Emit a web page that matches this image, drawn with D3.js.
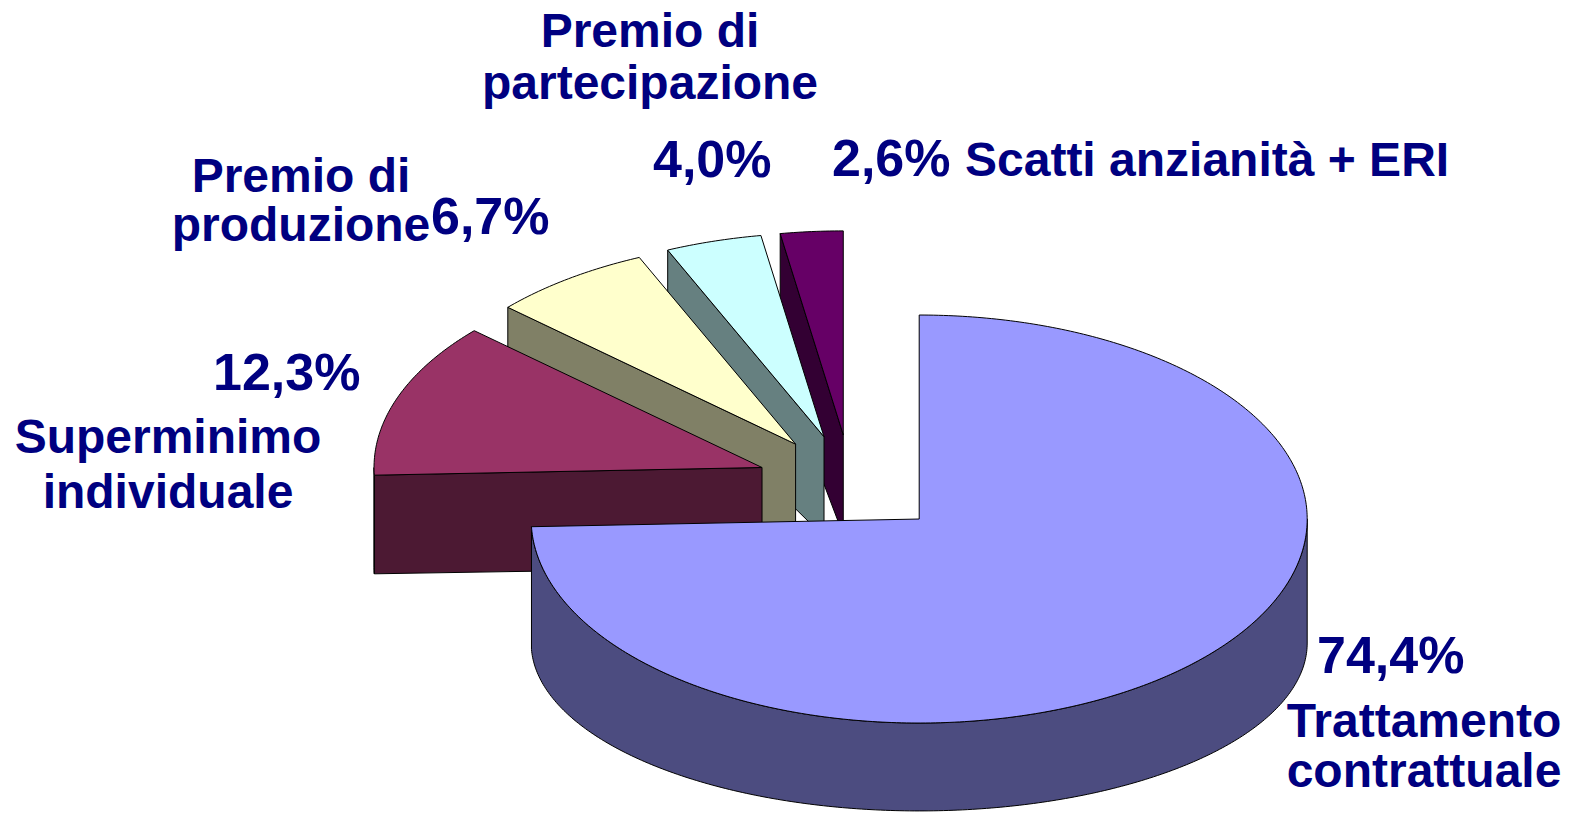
<!DOCTYPE html>
<html>
<head>
<meta charset="utf-8">
<script src="https://cdn.jsdelivr.net/npm/d3@7"></script>
<style>
  html, body { margin: 0; padding: 0; background: #fff; }
  svg { display: block; }
  text { font-family: "Liberation Sans", Arial, sans-serif; font-weight: bold; fill: #000080; }
</style>
</head>
<body>
<svg id="chart" width="1574" height="821"></svg>
<script>
// ---------------- data ----------------
const categories = ["Trattamento contrattuale", "Superminimo individuale", "Premio di produzione", "Premio di partecipazione", "Scatti anzianità + ERI"];
const values = [74.4, 12.3, 6.7, 4.0, 2.6];
const nameLines = [["Trattamento", "contrattuale"], ["Superminimo", "individuale"], ["Premio di", "produzione"], ["Premio di", "partecipazione"], ["Scatti anzianità + ERI"]];

// ---------------- style / layout ----------------
const topColors  = ["#9999FF", "#993366", "#FFFFCC", "#CCFFFF", "#660066"];
const sideColors = ["#4C4C80", "#4C1933", "#808066", "#668080", "#330033"];
const geo = { cx: 851, cy: 484.5, rx: 388, ry: 204, explode: 0.244, bottomRatio: 0.823 };
const depths = [124, 100, 100, 100, 100];
const nameSize = 48, pctSize = 52;
const labelLayout = [
  { pct: [1317, 673], name: [1424, 737], lh: 50 },
  { pct: [213, 390],  name: [168, 453],  lh: 55 },
  { pct: [431, 234],  name: [301, 192],  lh: 49 },
  { pct: [653, 177],  name: [650, 47],   lh: 52 },
  { pct: [832, 176],  inline: true }
];

// ---------------- drawing ----------------
const svg = d3.select("#chart");
const pie = d3.pie().sort(null).value(d => d);
const arcs = pie(values);
const ry2 = geo.ry * geo.bottomRatio;
const fmt = v => v.toFixed(1).replace(".", ",") + "%";

function center(a) {
  const mid = (a.startAngle + a.endAngle) / 2;
  return { x: geo.cx + geo.explode * geo.rx * Math.sin(mid), y: geo.cy - geo.explode * geo.ry * Math.cos(mid) };
}
const topPt = (c, a) => [c.x + geo.rx * Math.sin(a), c.y - geo.ry * Math.cos(a)];
const botPt = (c, a, H) => [c.x + geo.rx * Math.sin(a), c.y + H - ry2 * Math.cos(a)];
function sample(a0, a1) {
  const n = Math.max(2, Math.ceil(Math.abs(a1 - a0) * 80));
  return d3.range(n + 1).map(i => a0 + (a1 - a0) * i / n);
}
const line = d3.line().curve(d3.curveLinear);

const slices = arcs.map((a, i) => ({ a, i, c: center(a), H: depths[i] }))
  .sort((p, q) => p.c.y - q.c.y);

const g = svg.append("g");
slices.forEach(({ a, i, c, H }) => {
  const sg = g.append("g").attr("class", "slice");
  const style = sel => sel.attr("stroke", "#000").attr("stroke-width", 1).attr("stroke-linejoin", "round");
  // radial faces
  [[a.startAngle, -1], [a.endAngle, 1]].forEach(([ang, sgn]) => {
    const visible = sgn * Math.sin(ang) > 1e-6;
    if (!visible) return;
    const pts = [[c.x, c.y], topPt(c, ang), botPt(c, ang, H), [c.x, c.y + H]];
    style(sg.append("path").attr("d", line(pts) + "Z").attr("fill", sideColors[i]));
  });
  // outer wall
  const w0 = Math.max(a.startAngle, Math.PI / 2), w1 = Math.min(a.endAngle, 3 * Math.PI / 2);
  if (w1 > w0) {
    const angs = sample(w0, w1);
    const pts = angs.map(t => topPt(c, t)).concat(angs.slice().reverse().map(t => botPt(c, t, H)));
    style(sg.append("path").attr("d", line(pts) + "Z").attr("fill", sideColors[i]));
  }
  // top face
  const tpts = [[c.x, c.y]].concat(sample(a.startAngle, a.endAngle).map(t => topPt(c, t)));
  style(sg.append("path").attr("d", line(tpts) + "Z").attr("fill", topColors[i]));
});

// labels
const lg = svg.append("g");
arcs.forEach((a, i) => {
  const L = labelLayout[i];
  if (L.inline) {
    const t = lg.append("text").attr("x", L.pct[0]).attr("y", L.pct[1]);
    t.append("tspan").attr("font-size", pctSize).text(fmt(values[i]) + " ");
    t.append("tspan").attr("font-size", nameSize).text(nameLines[i].join(" "));
    return;
  }
  lg.append("text").attr("x", L.pct[0]).attr("y", L.pct[1]).attr("font-size", pctSize).text(fmt(values[i]));
  nameLines[i].forEach((ln, k) => {
    lg.append("text").attr("x", L.name[0]).attr("y", L.name[1] + k * L.lh)
      .attr("font-size", nameSize).attr("text-anchor", "middle").text(ln);
  });
});
</script>
</body>
</html>
